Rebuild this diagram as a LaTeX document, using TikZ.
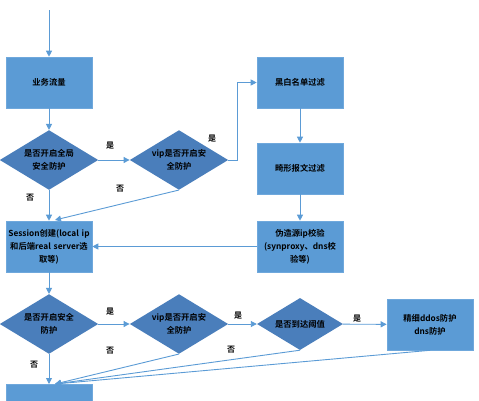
\documentclass[tikz,border=0pt]{standalone}
\usepackage{fontspec}
\setmainfont{Noto Sans CJK SC}[BoldFont={Noto Sans CJK SC Bold}]
\usetikzlibrary{shapes.geometric,arrows.meta}
\definecolor{boxblue}{HTML}{5B9BD5}
\definecolor{diablue}{HTML}{4A7EBB}
\definecolor{boxedge}{HTML}{6FA8DC}
\definecolor{linec}{HTML}{5B9BD5}
\tikzset{
  stepbox/.style={rectangle, fill=boxblue, draw=boxedge, line width=0.6pt, minimum width=86pt, minimum height=51pt, inner sep=1pt, align=center, font=\fontsize{8.3}{13}\selectfont\bfseries, text width=84pt},
  decide/.style={diamond, aspect=1.65, fill=diablue, draw=none, minimum width=86pt, minimum height=52pt, inner sep=0pt, align=center, font=\fontsize{8.3}{13}\selectfont\bfseries, text width=64pt},
  conn/.style={draw=linec, line width=0.9pt, -{Triangle[length=6pt,width=6pt]}},
  lab/.style={font=\fontsize{8}{9}\selectfont\bfseries, inner sep=0pt}
}
\begin{document}
\begin{tikzpicture}[x=1pt,y=-1pt]
\useasboundingbox (0,0) rectangle (479,400);
\node[stepbox] (flow) at (49,82.5) {业务流量};
\node[decide] (d1) at (49,160) {是否开启全局\\安全防护};
\node[decide] (d2) at (179,160) {vip是否开启安\\全防护};
\node[stepbox] (bw) at (300,82.5) {黑白名单过滤};
\node[stepbox] (mal) at (300,168.5) {畸形报文过滤};
\node[stepbox] (fake) at (300,246.5) {伪造源ip校验\\(synproxy、dns校\\验等)};
\node[stepbox] (sess) at (49,246.5) {Session创建(local ip\\和后端real server选\\取等)};
\node[decide] (d3) at (49,324) {是否开启安全\\防护};
\node[decide] (d4) at (179,324) {vip是否开启安\\全防护};
\node[decide] (d5) at (300,324) {是否到达阈值};
\node[stepbox] (ddos) at (430,324.5) {精细ddos防护\\dns防护};
\node[stepbox, anchor=north] (last) at (49,384) {};
\coordinate (top) at (49,10);
\coordinate (c1) at (237,160);
\coordinate (c2) at (237,82.5);
\coordinate (sin) at (55,220);
\coordinate (lin) at (55,384);

\draw[conn] (top) -- (flow.north);
\draw[conn] (flow) -- (d1);
\draw[conn] (d1) -- (d2);
\draw[conn] (d2.east) -- (c1) -- (c2) -- (bw.west);
\draw[conn] (bw) -- (mal);
\draw[conn] (mal) -- (fake);
\draw[conn] (fake.west) -- (sess.east);
\draw[conn] (d1) -- (sess);
\draw[conn] (d2.south) -- (sin);
\draw[conn] (sess) -- (d3);
\draw[conn] (d3) -- (d4);
\draw[conn] (d4) -- (d5);
\draw[conn] (d5) -- (ddos);
\draw[conn] (d3) -- (last);
\draw[conn] (d4.south) -- (lin);
\draw[conn] (d5.south) -- (lin);
\draw[conn] (ddos.south) -- (lin);

\node[lab] (y1) at (110,146) {是};
\node[lab] (y2) at (212,139) {是};
\node[lab] (n1) at (30,198) {否};
\node[lab] (n2) at (120,189) {否};
\node[lab] (y3) at (110,312) {是};
\node[lab] (y4) at (238,316) {是};
\node[lab] (y5) at (357,319) {是};
\node[lab] (n3) at (34,365) {否};
\node[lab] (n4) at (110,351) {否};
\node[lab] (n5) at (231,350) {否};
\end{tikzpicture}
\end{document}
